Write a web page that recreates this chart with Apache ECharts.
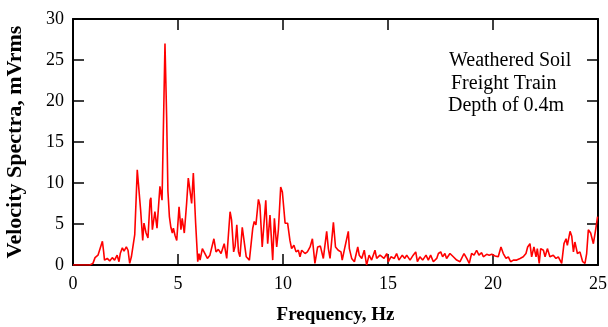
<!DOCTYPE html>
<html>
<head>
<meta charset="utf-8">
<script src="https://cdn.jsdelivr.net/npm/echarts@6/dist/echarts.min.js"></script>
<style>html,body{margin:0;padding:0;background:#fff}#c{width:608px;height:327px}</style>
</head>
<body>
<div id="c"></div>
<script>
const freq = [0,0.8,0.95,1.05,1.19,1.27,1.4,1.46,1.5,1.63,1.75,1.87,1.98,2.1,2.19,2.25,2.35,2.43,2.54,2.62,2.7,2.78,2.86,2.94,3.06,3.13,3.22,3.27,3.32,3.38,3.48,3.57,3.67,3.71,3.78,3.9,4.0,4.14,4.24,4.38,4.46,4.52,4.59,4.66,4.73,4.78,4.86,4.94,5.05,5.14,5.2,5.3,5.41,5.49,5.57,5.65,5.73,5.84,5.94,6.0,6.05,6.16,6.25,6.4,6.52,6.6,6.71,6.81,6.92,7.05,7.2,7.32,7.4,7.48,7.55,7.65,7.72,7.8,7.88,7.95,8.06,8.15,8.25,8.4,8.56,8.63,8.71,8.83,8.9,9.01,9.18,9.27,9.38,9.51,9.59,9.7,9.78,9.89,9.97,10.01,10.1,10.22,10.33,10.41,10.52,10.62,10.73,10.81,10.89,11.05,11.16,11.29,11.4,11.52,11.65,11.78,11.92,12.08,12.16,12.24,12.4,12.5,12.63,12.76,12.82,12.95,13.11,13.16,13.27,13.4,13.56,13.63,13.75,13.87,13.98,14.1,14.22,14.38,14.46,14.62,14.7,14.81,14.94,15.02,15.14,15.3,15.41,15.52,15.68,15.8,15.89,16.05,16.2,16.32,16.4,16.52,16.65,16.81,16.92,17.03,17.16,17.32,17.4,17.51,17.6,17.71,17.79,17.95,18.11,18.27,18.43,18.62,18.75,18.87,18.98,19.1,19.22,19.33,19.46,19.54,19.7,19.82,19.94,20.1,20.25,20.38,20.49,20.62,20.73,20.84,20.97,21.13,21.29,21.44,21.57,21.65,21.76,21.84,21.95,22.05,22.11,22.2,22.27,22.4,22.48,22.59,22.71,22.87,23.0,23.11,23.27,23.38,23.48,23.54,23.67,23.75,23.83,23.9,24.02,24.14,24.27,24.38,24.46,24.54,24.65,24.78,24.9,24.98];
const velocity = [0,0,0.2,0.9,1.2,1.4,2.9,1.6,0.6,0.8,0.5,0.9,0.6,1.2,0.4,1.4,2.1,1.7,2.2,1.8,0.2,1.0,0.8,3.7,11.6,11.4,6.7,6.8,3.0,5.1,3.9,3.3,7.9,8.2,4.3,6.5,4.5,9.6,7.9,27.0,18.0,9.0,5.9,4.6,3.9,4.5,3.6,3.0,7.1,4.3,5.7,3.9,7.5,10.6,9.1,7.5,11.2,5.1,0.4,1.4,0.6,2.0,1.8,0.8,1.2,1.4,3.2,1.6,1.9,1.4,2.6,0.8,0.6,6.5,5.5,1.6,2.3,4.9,1.6,1.0,4.6,4.5,1.0,0.6,4.5,5.3,4.9,8.0,7.3,2.2,7.9,2.6,6.1,0.6,5.7,2.2,4.3,9.5,8.9,9.1,5.1,5.1,3.0,2.0,2.4,1.6,1.8,1.0,1.8,1.4,1.6,2.2,3.2,0.2,2.2,2.3,0.8,4.1,2.0,0.8,5.2,2.2,1.8,1.6,0.6,2.2,4.1,2.0,0.8,0.4,2.2,1.2,0.8,1.8,0,1.2,0.6,1.8,0.8,1.2,1.3,0.8,1.4,0.4,1.0,0.8,1.4,0.6,1.2,0.8,1.2,0.6,1.2,1.6,0.4,1.0,0.6,1.2,0.6,1.2,0.4,0.8,1.4,1.6,1.0,1.4,0.8,1.4,1.0,0.6,0.4,1.4,0.8,0.2,1.4,1.2,1.8,1.2,1.5,1.0,1.3,1.2,1.3,1.1,1.0,2.2,1.4,0.8,1.0,0.4,0.6,0.6,0.8,1.0,1.4,2.2,2.6,1.0,2.2,1.0,2.0,0.2,2.0,1.8,1.0,2.0,1.0,1.2,0.8,1.0,0.2,2.6,3.2,2.4,4.1,3.5,1.6,2.8,1.4,1.6,0.4,0.2,1.4,4.3,3.9,2.6,4.5,5.9];
const xTicks = [0,5,10,15,20,25];
const yTicks = [0,5,10,15,20,25,30];
const notes = ['Weathered Soil','Freight Train','Depth of 0.4m'];

const chart = echarts.init(document.getElementById('c'), null, {renderer:'canvas'});
const serif = '"Liberation Serif","Times New Roman",serif';
const lineStyle = {color:'#000', width:2};
const tickStyle = {inside:true, length:11, lineStyle:{color:'#000', width:1.5}};
const data = freq.map((f,i)=>[f, velocity[i]]);
chart.setOption({
  animation:false,
  grid:{left:73, right:10, top:19, bottom:62, containLabel:false, outerBoundsMode:'none'},
  xAxis:[
    {type:'value', min:xTicks[0], max:xTicks[xTicks.length-1], interval:5, position:'bottom',
     axisLine:{show:true, onZero:false, lineStyle}, axisTick:tickStyle, splitLine:{show:false},
     axisLabel:{fontFamily:serif, fontSize:18, color:'#000', margin:10},
     name:'Frequency, Hz', nameLocation:'middle', nameGap:41,
     nameTextStyle:{fontFamily:serif, fontSize:19, fontWeight:'bold', color:'#000'}},
    {type:'value', min:0, max:25, interval:5, position:'top',
     axisLine:{show:true, onZero:false, lineStyle}, axisTick:tickStyle, axisLabel:{show:false}, splitLine:{show:false}}
  ],
  yAxis:[
    {type:'value', min:yTicks[0], max:yTicks[yTicks.length-1], interval:5, position:'left',
     axisLine:{show:true, onZero:false, lineStyle}, axisTick:tickStyle, splitLine:{show:false},
     axisLabel:{fontFamily:serif, fontSize:18, color:'#000', margin:9},
     name:'Velocity Spectra, mVrms', nameLocation:'middle', nameGap:47, nameRotate:90,
     nameTextStyle:{fontFamily:serif, fontSize:22, fontWeight:'bold', color:'#000'}},
    {type:'value', min:0, max:30, interval:5, position:'right',
     axisLine:{show:true, onZero:false, lineStyle}, axisTick:tickStyle, axisLabel:{show:false}, splitLine:{show:false}}
  ],
  series:[{type:'line', data:data, xAxisIndex:0, yAxisIndex:0, showSymbol:false, symbol:'none',
    lineStyle:{color:'#ff0000', width:1.6}, clip:true}],
  graphic: notes.map((t,i)=>({type:'text', left:[449,451,448][i], top:[51,74,96][i],
    style:{text:t, font:'20px ' + serif, fill:'#000'}}))
});
</script>
</body>
</html>
